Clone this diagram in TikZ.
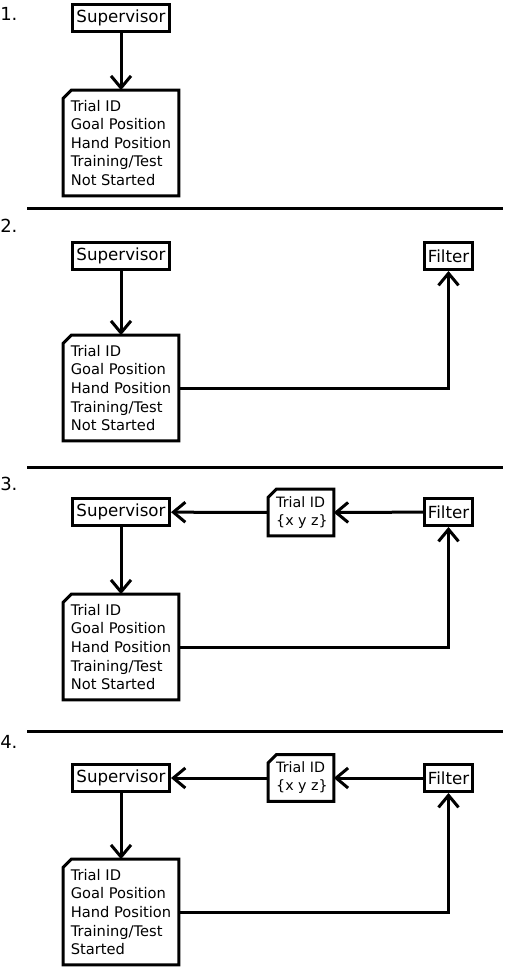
\documentclass[tikz,border=0pt]{standalone}
\usepackage{fontspec}
\setmainfont{DejaVu Sans}
\usetikzlibrary{arrows.meta}

\tikzset{
  wire/.style={line width=2.25pt},
  flow/.style={wire, -{Straight Barb[length=9pt, width=15pt]}},
  proc/.style={draw, line width=2.25pt, inner sep=0pt, minimum height=20.25pt,
    font=\fontsize{12.5}{15}\selectfont},
  docbox/.style={minimum width=86.25pt, minimum height=78.75pt, inner sep=0pt,
    align=left, font=\fontsize{11}{13.9}\selectfont,
    execute at begin node={\rule{0pt}{13pt}}},
  msgbox/.style={minimum width=48.75pt, minimum height=34.5pt, inner sep=0pt,
    align=left, font=\fontsize{10.7}{13.5}\selectfont,
    execute at begin node={\hspace*{1.5pt}\rule{0pt}{12.5pt}}},
  step label/.style={anchor=west, inner sep=0pt, font=\fontsize{13.5}{16}\selectfont}
}

% outline with the clipped corner
\newcommand{\docframe}[1]{%
  \draw[wire, line join=miter] ([yshift=-6pt]#1.north west) -- ([xshift=6pt]#1.north west)
    -- (#1.north east) -- (#1.south east) -- (#1.south west) -- cycle;}

\begin{document}
\begin{tikzpicture}[x=0.75pt, y=-0.75pt]
\fill[white] (0,0) rectangle (505,969);
\useasboundingbox (0,0) rectangle (505,969);

% step 1
\node[step label] (n1) at (0,14) {1.};
\node[proc, minimum width=72.75pt] (sup1) at (121,18) {Supervisor};
\node[docbox] (rec1) at (121,143) {Trial ID\\Goal Position\\Hand Position\\Training/Test\\Not Started};
\docframe{rec1}
\draw[flow] (sup1) -- (rec1.north);

\draw[wire] (27,209) -- (503,209);

% step 2
\node[step label] (n2) at (0,226) {2.};
\node[proc, minimum width=72.75pt] (sup2) at (121,256) {Supervisor};
\node[proc, minimum width=36pt] (filt2) at (448.5,256) {Filter};
\node[docbox] (rec2) at (121,388) {Trial ID\\Goal Position\\Hand Position\\Training/Test\\Not Started};
\docframe{rec2}
\draw[flow] (sup2) -- (rec2.north);
\draw[flow] (rec2.east) -| (filt2.south);

\draw[wire] (27,467) -- (503,467);

% step 3
\node[step label] (n3) at (0,484) {3.};
\node[proc, minimum width=72.75pt] (sup3) at (121,512) {Supervisor};
\node[msgbox] (msg3) at (301,512.5) {Trial ID\\\{x y z\}};
\docframe{msg3}
\node[proc, minimum width=36pt] (filt3) at (448.5,512) {Filter};
\node[docbox] (rec3) at (121,647) {Trial ID\\Goal Position\\Hand Position\\Training/Test\\Not Started};
\docframe{rec3}
\draw[flow] (filt3) -- (msg3.east);
\draw[flow] (msg3.west) -- (sup3);
\draw[flow] (sup3) -- (rec3.north);
\draw[flow] (rec3.east) -| (filt3.south);

\draw[wire] (27,731) -- (503,731);

% step 4
\node[step label] (n4) at (0,742) {4.};
\node[proc, minimum width=72.75pt] (sup4) at (121,778) {Supervisor};
\node[msgbox] (msg4) at (301,778) {Trial ID\\\{x y z\}};
\docframe{msg4}
\node[proc, minimum width=36pt] (filt4) at (448.5,778) {Filter};
\node[docbox] (rec4) at (121,912) {Trial ID\\Goal Position\\Hand Position\\Training/Test\\Started};
\docframe{rec4}
\draw[flow] (filt4) -- (msg4.east);
\draw[flow] (msg4.west) -- (sup4);
\draw[flow] (sup4) -- (rec4.north);
\draw[flow] (rec4.east) -| (filt4.south);
\end{tikzpicture}
\end{document}
